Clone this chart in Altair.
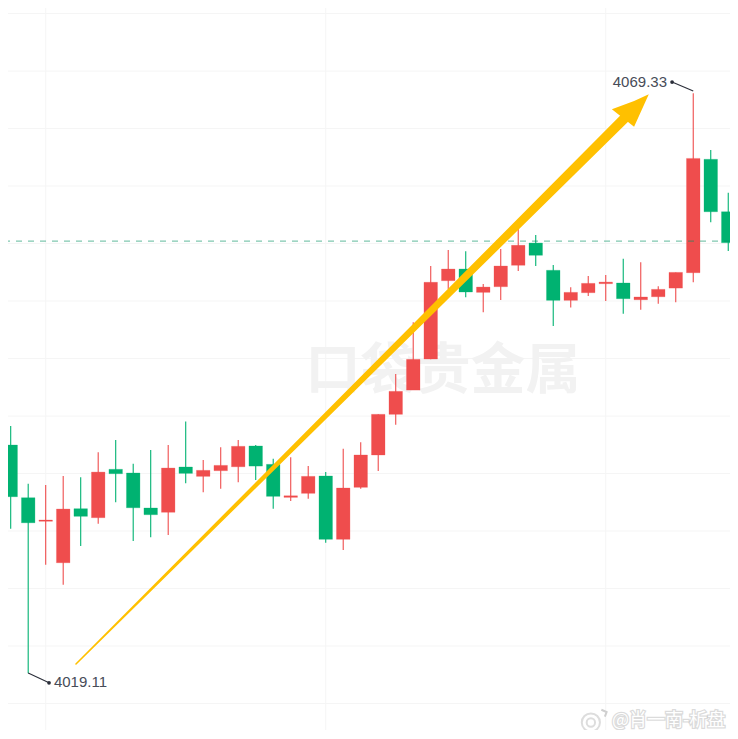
import altair as alt
import pandas as pd

highs = [4040.52,4035.52,4035.41,4036.19,4036.08,4038.24,4039.30,4037.25,4038.44,4038.87,4040.92,4037.57,4038.67,4039.30,4038.87,4037.69,4037.81,4037.05,4036.53,4038.55,4039.11,4041.53,4045.02,4049.50,4054.37,4055.75,4055.64,4052.81,4055.84,4057.66,4057.05,4054.46,4052.53,4053.50,4053.59,4055.00,4054.69,4052.61,4053.82,4069.33,4064.41,4060.72]
lows = [4031.63,4019.11,4028.51,4026.78,4030.13,4032.06,4033.91,4030.56,4030.88,4031.08,4035.56,4034.78,4035.09,4035.64,4035.84,4033.36,4034.02,4034.22,4030.41,4029.78,4035.09,4036.62,4040.63,4043.63,4046.29,4052.38,4051.66,4050.36,4051.43,4053.94,4054.37,4049.17,4050.79,4051.77,4051.34,4050.24,4050.59,4051.11,4051.23,4052.96,4058.15,4055.67]
opens = [4038.87,4034.31,4032.27,4028.68,4033.36,4032.58,4036.77,4036.45,4033.42,4033.05,4036.97,4036.16,4036.65,4036.99,4038.79,4037.20,4034.34,4034.69,4036.19,4030.71,4035.21,4038.01,4041.53,4043.63,4046.32,4053.10,4054.11,4052.09,4052.58,4054.43,4056.36,4054.00,4051.40,4052.06,4052.84,4052.90,4051.45,4051.71,4052.46,4053.79,4063.61,4059.07]
closes = [4034.40,4032.14,4032.38,4033.33,4032.70,4036.53,4036.39,4033.44,4032.84,4036.88,4036.42,4036.68,4037.11,4038.76,4037.05,4034.43,4034.48,4036.16,4030.71,4035.15,4038.01,4041.53,4043.52,4046.29,4052.96,4054.11,4052.12,4052.55,4054.37,4056.16,4055.30,4051.40,4052.09,4052.87,4052.98,4051.54,4051.69,4052.35,4053.82,4063.69,4059.07,4056.39]

grid_prices = [4016.49,4021.47,4026.45,4031.43,4036.40,4041.38,4046.36,4051.34,4056.32,4061.30,4066.27,4071.25,4076.23]
grid_candles = [2, 18, 34]
last_price = 4056.53

arrow_x = [3.73, 35.09]
arrow_y = [4019.91, 4067.18]
arrow_size = [1.5, 10]
head_x = [34.35, 35.62, 36.46]
head_top = [4067.94, 4068.66, 4069.24]
head_bottom = [4067.94, 4066.42, 4069.24]

RED, GREEN, INK = "#EF4D4D", "#00B271", "#2A2E39"
X = alt.Scale(domain=[-0.154, 41.10], nice=False, zero=False, padding=0)
Y = alt.Scale(domain=[4014.20, 4076.71], nice=False, zero=False, padding=0)
xq = lambda f: alt.X(f, type="quantitative", scale=X, axis=None)
yq = lambda f: alt.Y(f, type="quantitative", scale=Y, axis=None)

df = pd.DataFrame({"i": range(len(highs)), "h": highs, "l": lows, "o": opens, "c": closes})
df["col"] = [RED if c >= o else GREEN for o, c in zip(opens, closes)]
col = alt.Color("col:N", scale=None)

hgrid = alt.Chart(pd.DataFrame({"p": grid_prices})).mark_rule(color="#F5F5F5", strokeWidth=1).encode(y=yq("p"))
vgrid = alt.Chart(pd.DataFrame({"i": grid_candles})).mark_rule(color="#F5F5F5", strokeWidth=1).encode(x=xq("i"))

mark = alt.Chart(pd.DataFrame({"i": [24.7], "p": [4045.28], "t": ["口袋贵金属"]})).mark_text(
    font="Noto Sans CJK SC", fontWeight="bold", fontSize=55, color="#F2F2F2", align="center", baseline="middle"
).encode(x=xq("i"), y=yq("p"), text="t:N")

wicks = alt.Chart(df).mark_rule(strokeWidth=1.1).encode(x=xq("i"), y=yq("l"), y2="h:Q", color=col)
bodies = alt.Chart(df).mark_bar(size=13.5, strokeWidth=0.8, strokeOpacity=0.35).encode(
    x=xq("i"), y=yq("o"), y2="c:Q", color=col, stroke=alt.Stroke("col:N", scale=None))

dash = alt.Chart(pd.DataFrame({"p": [last_price]})).mark_rule(
    color="#008F5F", opacity=0.5, strokeWidth=1.2, strokeDash=[6, 6]).encode(y=yq("p"))

trail = alt.Chart(pd.DataFrame({"x": arrow_x, "y": arrow_y, "s": arrow_size})).mark_trail(color="#FFC000").encode(
    x=xq("x"), y=yq("y"), size=alt.Size("s:Q", scale=None, legend=None), order="x:Q")
head = alt.Chart(pd.DataFrame({"x": head_x, "t": head_top, "b": head_bottom})).mark_area(color="#FFC000").encode(
    x=xq("x"), y=yq("t"), y2="b:Q")

lead = pd.DataFrame({"g": ["a", "a", "b", "b"], "x": [39.0, 37.79, 1.0, 2.19], "y": [4069.52, 4070.30, 4019.13, 4018.29], "d": [0, 1, 0, 1]})
leaders = alt.Chart(lead).mark_line(color=INK, strokeWidth=1.1).encode(x=xq("x"), y=yq("y"), detail="g:N", order="d:Q")
dots = alt.Chart(lead[lead.d == 1]).mark_point(color=INK, filled=True, size=14, opacity=1).encode(x=xq("x"), y=yq("y"))

labels = alt.Chart(pd.DataFrame({"x": [37.5], "y": [4070.30], "t": ["4069.33"]})).mark_text(
    font="Liberation Sans", fontSize=15, color="#474C58", align="right", baseline="middle"
).encode(x=xq("x"), y=yq("y"), text="t:N")
labels2 = alt.Chart(pd.DataFrame({"x": [2.47], "y": [4018.35], "t": ["4019.11"]})).mark_text(
    font="Liberation Sans", fontSize=15, color="#474C58", align="left", baseline="middle"
).encode(x=xq("x"), y=yq("y"), text="t:N")

wb = pd.DataFrame({"x": [34.36], "y": [4014.98], "t": ["@肖一南-析盘"]})
wb_shadow = alt.Chart(wb).mark_text(font="Noto Sans CJK SC", fontSize=18, align="left", baseline="middle",
    color="#FFFFFF", stroke="#BDBDBD", strokeWidth=2.5, strokeOpacity=0.55).encode(x=xq("x"), y=yq("y"), text="t:N")
wb_text = alt.Chart(wb).mark_text(font="Noto Sans CJK SC", fontSize=18, align="left", baseline="middle",
    color="#FFFFFF").encode(x=xq("x"), y=yq("y"), text="t:N")
logo = alt.Chart(pd.DataFrame({"x": [33.15, 33.15], "y": [4014.85, 4014.85], "s": [330, 70]})).mark_point(
    color="#CFCFCF", strokeWidth=2, fill="#FFFFFF", filled=False).encode(
    x=xq("x"), y=yq("y"), size=alt.Size("s:Q", scale=None, legend=None))
wave = alt.Chart(pd.DataFrame({"x": [33.75, 34.05, 33.95], "y": [4015.95, 4015.75, 4015.35], "d": [0, 1, 2]})).mark_line(
    color="#CFCFCF", strokeWidth=2).encode(x=xq("x"), y=yq("y"), order="d:Q")

chart = alt.layer(hgrid, vgrid, mark, wicks, bodies, dash, trail, head, leaders, dots, labels, labels2,
                  logo, wave, wb_shadow, wb_text).properties(
    width=722, height=722, padding=0, autosize=alt.AutoSizeParams(type="none"), background="#FFFFFF"
).configure_view(stroke=None)

chart.save("out.html", embed_options={"renderer": "svg", "actions": False})
